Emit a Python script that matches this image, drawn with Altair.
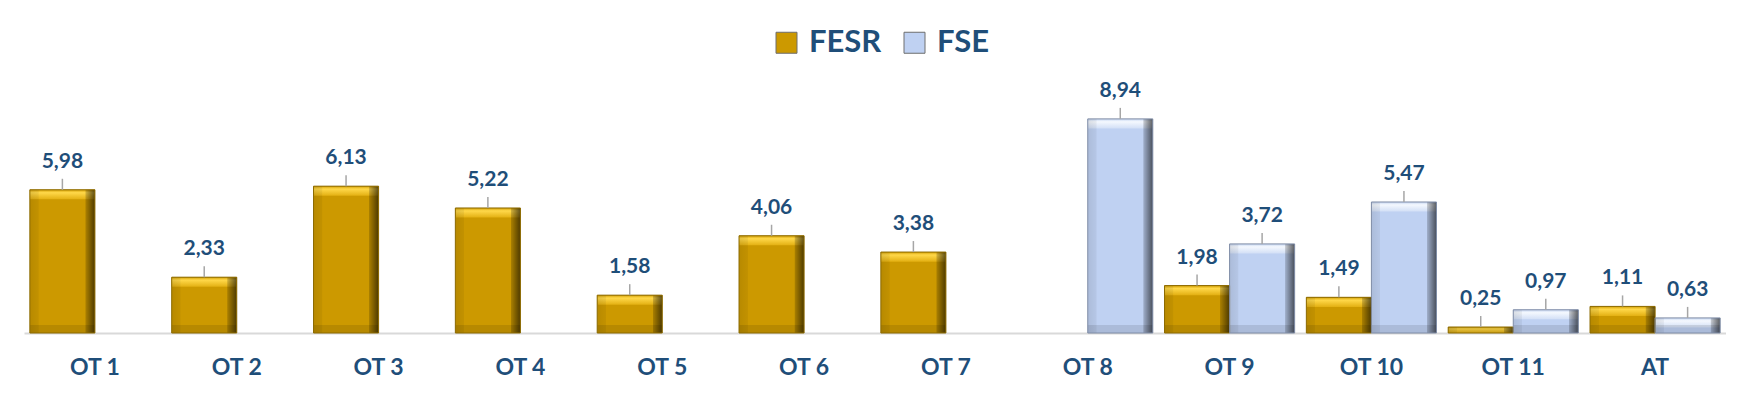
import altair as alt
import pandas as pd

categories = ["OT 1", "OT 2", "OT 3", "OT 4", "OT 5", "OT 6", "OT 7",
              "OT 8", "OT 9", "OT 10", "OT 11", "AT"]
series = ["FESR", "FSE"]
fesr = [5.98, 2.33, 6.13, 5.22, 1.58, 4.06, 3.38, None, 1.98, 1.49, 0.25, 1.11]
fse = [None, None, None, None, None, None, None, 8.94, 3.72, 5.47, 0.97, 0.63]

rows = []
for c, a, b in zip(categories, fesr, fse):
    if a is not None:
        rows.append({"cat": c, "series": "FESR", "value": a})
    if b is not None:
        rows.append({"cat": c, "series": "FSE", "value": b})
df = pd.DataFrame(rows)

TEXT = "#1F4E79"
FONT = "Lato"
is_fesr = "datum.series == 'FESR'"


def grad_v(stops):
    return {"gradient": "linear", "x1": 0, "x2": 0, "y1": 0, "y2": 1,
            "stops": [{"offset": o, "color": c} for o, c in stops]}


def grad_h(stops):
    return {"gradient": "linear", "x1": 0, "x2": 1, "y1": 0, "y2": 0,
            "stops": [{"offset": o, "color": c} for o, c in stops]}


base = alt.Chart(df).transform_calculate(
    label="replace(format(datum.value, '.2f'), '.', ',')",
    top2="max(datum.value - 0.4, 0)",
    bot2="min(datum.value, 0.33)",
    z="0",
).encode(
    x=alt.X("cat:N", sort=categories, title=None,
            scale=alt.Scale(paddingInner=0, paddingOuter=0),
            axis=alt.Axis(labelAngle=0, ticks=False, tickSize=0,
                          domainColor="#D9D9D9", domainWidth=2,
                          labelFont=FONT, labelFontSize=23, labelFontWeight="bold",
                          labelColor=TEXT, labelPadding=23)),
    xOffset=alt.XOffset("series:N", sort=series,
                        scale=alt.Scale(domain=series, paddingInner=0, paddingOuter=0.09)),
    y=alt.Y("value:Q", axis=None,
            scale=alt.Scale(domain=[0, 13.57], nice=False, zero=False)),
)

bars = base.mark_bar().encode(
    color=alt.Color("series:N",
                    scale=alt.Scale(domain=series, range=["#CC9900", "#BFD1F2"]),
                    legend=alt.Legend(title=None, orient="none", legendX=747, legendY=19,
                                      direction="horizontal", symbolType="square",
                                      symbolSize=441, labelFont=FONT, labelFontSize=31,
                                      labelFontWeight="bold", labelColor=TEXT,
                                      labelOffset=7, columnPadding=17, padding=0,
                                      symbolStrokeColor="#6E6E6E", symbolStrokeWidth=1)),
)

top_band = base.mark_bar(clip=True).encode(
    y2=alt.Y2("top2:Q"),
    color=alt.condition(
        is_fesr,
        alt.value(grad_v([(0, "#D4A106"), (0.3, "#FFD84A"), (1, "#E3B012")])),
        alt.value(grad_v([(0, "#C6D6F1"), (0.3, "#F4F8FE"), (1, "#D2DFF6")])),
    ),
)

bottom_band = base.mark_bar(clip=True, color="rgba(0,0,0,0.10)").encode(
    y=alt.Y("bot2:Q", axis=None, scale=alt.Scale(domain=[0, 13.57], nice=False, zero=False)),
    y2=alt.Y2("z:Q"),
)

side_shade = base.mark_bar(
    color=grad_h([(0, "rgba(0,0,0,0.10)"), (0.13, "rgba(0,0,0,0.05)"),
                  (0.14, "rgba(0,0,0,0)"), (0.85, "rgba(0,0,0,0)"),
                  (0.86, "rgba(0,0,0,0.18)"), (1, "rgba(0,0,0,0.62)")])
)

outline = base.mark_bar(fillOpacity=0, strokeWidth=1).encode(
    stroke=alt.condition(is_fesr, alt.value("#8C6A00"), alt.value("#7F8CA6")),
)

leaders = base.mark_rule(color="#A6A6A6", strokeWidth=1.5, y2Offset=-11).encode(
    y2=alt.Y2("value:Q"),
)

labels = base.mark_text(dy=-28, baseline="middle", align="center", font=FONT,
                        fontSize=21, fontWeight="bold", color=TEXT).encode(
    text="label:N",
)

chart = alt.layer(bars, top_band, bottom_band, side_shade, outline, leaders, labels).properties(
    width=1702, height=325,
    padding={"left": 16, "top": 0, "right": 0, "bottom": 0},
    background="white",
).configure_view(stroke=None)

chart.save("out.html", embed_options={"renderer": "svg", "actions": False})
